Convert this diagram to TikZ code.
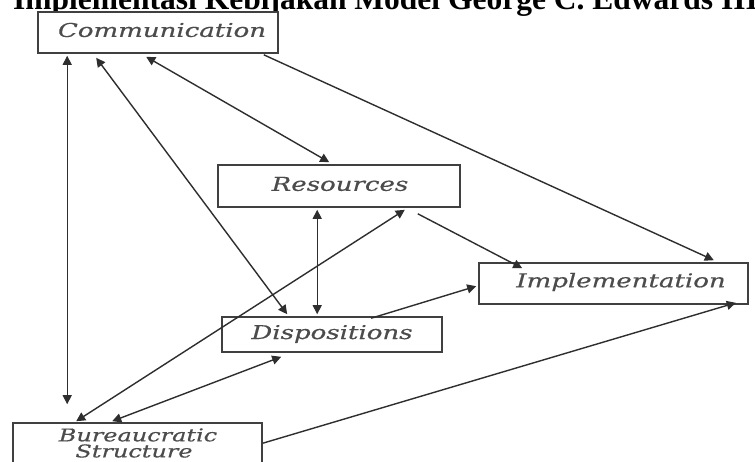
\documentclass[tikz,border=0pt]{standalone}
\usepackage{fontspec}
\setmainfont{Liberation Serif}
\newfontfamily\lblfont[FakeStretch=1.37,FakeBold=0.5]{DejaVu Serif}
\usetikzlibrary{arrows.meta}
\begin{document}
\begin{tikzpicture}[x=1pt,y=-1pt,
  box/.style={draw=black!75, line width=1.6pt, fill=white, inner sep=0pt, minimum width=#1},
  lbl/.style={font=\lblfont\itshape\fontsize{19}{19}\selectfont, text=black!70, inner sep=0pt},
  lblsmall/.style={font=\lblfont\itshape\fontsize{17.5}{17.5}\selectfont, text=black!70, inner sep=0pt},
  con/.style={draw=black!82, line width=1.4pt},
  tipend/.style={-{Triangle[length=9pt,width=9pt]}},
  tipboth/.style={{Triangle[length=9pt,width=9pt]}-{Triangle[length=9pt,width=9pt]}}]
\useasboundingbox (0,0) rectangle (755,461);
\clip (0,0) rectangle (755,461);
\fill[white] (0,0) rectangle (755,461);
% title
\node[anchor=base west, inner sep=0pt, font=\bfseries\fontsize{31.5}{31.5}\selectfont] (title) at (13,9) {Implementasi Kebijakan Model George C. Edwards III};
% boxes
\node[box=240pt, minimum height=41pt] (comm) at (158,32.5) {};
\node[box=242pt, minimum height=42pt] (res) at (339,186) {};
\node[box=269pt, minimum height=41pt] (imp) at (613.5,283.5) {};
\node[box=220pt, minimum height=35pt] (disp) at (332,334.5) {};
\node[box=249pt, minimum height=52pt] (bur) at (137.5,449) {};
% labels
\node[lbl] (tcomm) at (162,30) {Communication};
\node[lbl] (tres) at (340,184) {Resources};
\node[lbl] (timp) at (621,282) {Implementation};
\node[lbl] (tdisp) at (332,334) {Dispositions};
\node[lblsmall] (tbur1) at (138,435) {Bureaucratic};
\node[lblsmall] (tbur2) at (134,451) {Structure};
% connectors
\draw[con,tipboth] ([xshift=30pt,yshift=-2pt]comm.south west) -- ([xshift=55pt,yshift=18pt]bur.north west);
\draw[con,tipboth] ([xshift=59pt,yshift=-4pt]comm.south west) -- ([xshift=66pt,yshift=2pt]disp.north west);
\draw[con,tipboth] ([xshift=109pt,yshift=-3pt]comm.south west) -- ([xshift=112pt,yshift=2pt]res.north west);
\draw[con,tipend] ([xshift=-15pt,yshift=-1pt]comm.south east) -- ([xshift=-35pt,yshift=2pt]imp.north east);
\draw[con,tipboth] ([xshift=100pt,yshift=-2pt]res.south west) -- ([xshift=96pt,yshift=2pt]disp.north west);
\draw[con,tipboth] ([xshift=64pt,yshift=1pt]bur.north west) -- ([xshift=-56pt,yshift=-2pt]res.south east);
\draw[con,tipboth] ([xshift=100pt,yshift=1pt]bur.north west) -- ([xshift=60pt,yshift=-4pt]disp.south west);
\draw[con,tipend] ([xshift=-43pt,yshift=-6pt]res.south east) -- ([xshift=44pt,yshift=-6pt]imp.north west);
\draw[con,tipend] ([xshift=150pt,yshift=-2pt]disp.north west) -- ([xshift=-2pt,yshift=-24pt]imp.north west);
\draw[con,tipend] ([yshift=-21pt]bur.north east) -- ([xshift=-13pt,yshift=2pt]imp.south east);
\end{tikzpicture}
\end{document}
